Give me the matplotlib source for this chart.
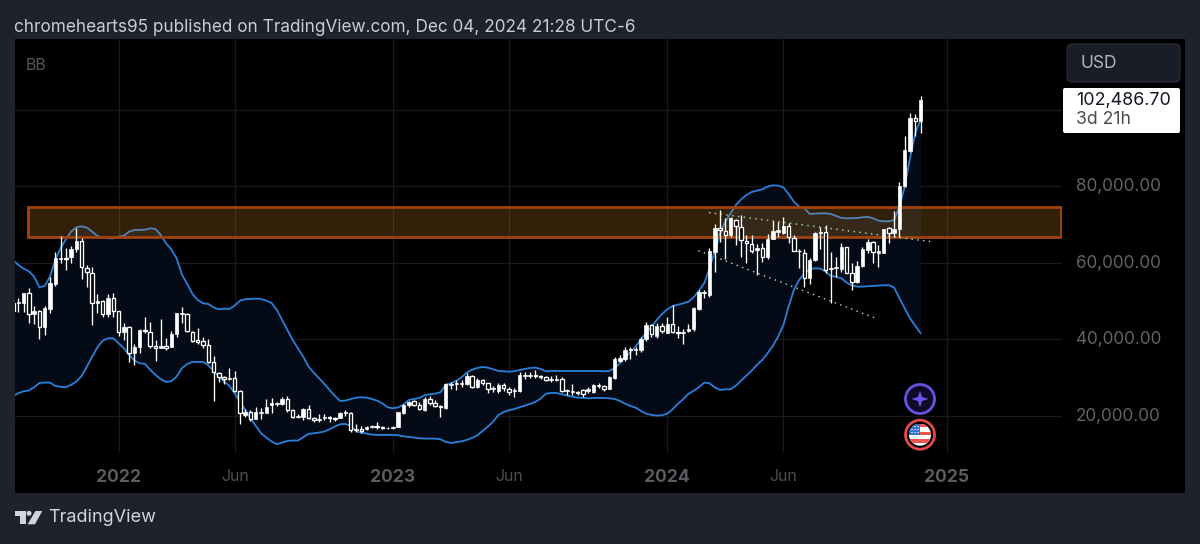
import numpy as np
import pandas as pd
import matplotlib
matplotlib.use("Agg")
import matplotlib.pyplot as plt
from matplotlib.patches import Rectangle, Circle, FancyBboxPatch, Polygon
from matplotlib.transforms import ScaledTranslation

opens = [49430,49430,49430,52040,46560,47430,43340,48040,54480,60910,61350,61440,63520,65790,58560,57430,49600,50130,46650,50730,
         47430,42030,43170,36550,37950,42470,42030,38380,37860,38380,37950,41340,46650,46650,42030,39860,39510,38470,34120,31330,
         30290,29590,29940,26640,20280,21150,19330,20890,20890,22810,23160,23160,24370,21590,19680,19850,21760,19500,18980,19410,
         19680,19590,19590,20810,20880,16270,16530,16530,17140,17400,17050,16790,16790,17230,20880,22800,23840,22970,21580,24360,
         23490,22620,22010,28100,28280,28280,28360,30450,27490,29410,28540,26970,26620,28190,27150,26540,26540,30450,30450,30710,
         30360,30100,29490,29490,29670,26450,26280,26280,26710,26620,26280,27840,27840,27150,29930,34450,34800,37150,37240,37240,
         40020,43850,40890,43500,41780,43960,41960,41610,42300,42650,47960,52050,51610,62920,69010,68320,67190,71190,69450,65790,
         64920,63360,63880,61440,66140,68140,67710,69620,66490,63180,62660,55960,60750,67710,68140,58310,58750,58310,64050,57270,
         54920,59180,63360,65530,62660,62660,69010,67880,68750,80060,89280,97810,96940]
highs = [49860,50730,52210,53340,48730,47690,48730,56390,62910,67090,63780,64390,69000,66390,59430,59000,51870,50300,51870,52040,
         47520,44380,43510,38820,42640,45780,44640,39860,45430,40290,42300,46990,48390,46990,42300,42990,40730,40030,35770,31590,
         30460,32460,31860,26810,21760,21590,22460,22020,24370,24630,23760,25070,25240,21760,20550,22020,22890,19680,20550,20550,
         20020,19850,21150,21590,21140,17920,17400,17400,17660,18450,17400,17230,17400,21140,23140,24010,24190,23670,24880,25230,
         24190,22800,28540,28970,29410,29410,31320,30630,29840,29760,28710,27840,28540,28540,27490,27230,31500,31580,31580,32020,
         30630,30450,30450,30800,30100,26970,28360,26620,27150,27490,28360,28710,28100,30450,35320,35930,37930,37930,38110,40540,
         44630,44020,44370,44200,45960,49000,43520,42830,44040,48570,52920,52920,63790,70060,73800,71620,72060,71360,72490,67270,
         67270,64920,65270,67530,71010,70750,71880,70320,67270,63530,63530,61180,68060,69270,69800,62840,61620,65100,64230,59880,
         60570,64230,66320,65790,64660,68930,69270,73620,81190,93110,99200,98850,103550]
lows = [47250,47250,47250,44210,44040,40030,41160,46990,53950,59870,58130,59870,62910,55780,53600,43770,46990,45780,45780,45780,
        40900,39860,34200,33330,36380,41600,37680,34470,37680,37250,37950,40730,44380,42030,39420,38820,37680,33940,24030,28810,
        28380,29420,26370,17850,19850,18810,19150,19240,20720,20890,22630,22810,20980,19590,19590,18980,19330,18460,18540,18980,
        18460,18720,19410,20020,15840,15840,15490,16360,16880,16710,16530,16530,16530,17050,20530,22450,22620,21580,21230,22800,
        22270,19840,21750,26970,26800,27490,28190,27320,27320,28020,26100,26280,26100,26620,25580,24880,26360,29580,29930,30020,
        29760,29060,28890,29060,26280,25580,25580,25580,25060,26100,26100,27320,26620,26970,29760,34110,34450,34980,35850,36800,
        39670,40540,40280,41610,41610,41610,40300,38820,41960,42300,47700,50740,51000,57700,65530,60920,66660,64660,61620,59880,
        62490,56750,60310,60920,66140,66840,67530,65270,63010,58570,53610,54480,60570,63530,57440,49610,56400,57700,57270,52920,
        54830,59010,62660,60050,59010,62490,65270,66840,66840,79890,89020,93110,93810]
closes = [47520,49690,52040,46560,47430,43340,48120,54650,61350,61350,60910,63520,65790,58830,57520,49600,50130,46650,50730,47520,
          42030,43170,36550,37950,42470,42120,38380,37860,38380,37860,41340,46820,46990,42300,39690,39420,38550,34200,31420,30290,
          29590,29850,26640,20720,21150,19330,20980,21150,22460,23330,23500,24370,21590,19680,20020,21760,19500,18980,19240,19680,
          19410,19330,20720,21150,16360,16530,16180,17230,17400,17140,16790,16970,17230,21060,22880,23750,22800,21930,24360,23320,
          22620,22270,28360,28360,28540,28540,30450,27670,29410,28540,26970,27230,28190,27320,26280,26800,30710,30710,30800,30450,
          30100,29410,29760,29760,26450,26710,26540,26010,25840,26970,28100,28190,26970,30100,34800,35060,37240,37500,37590,40200,
          43850,41410,43500,42280,44040,41870,41610,41960,42830,48310,52310,52480,63100,69010,68580,67190,71620,69620,65970,65270,
          63010,63790,61440,66140,68400,68580,69620,66840,63180,63010,55960,60750,67710,68140,58140,58750,59010,64230,57440,54920,
          59270,63530,65530,62920,63100,68750,67880,68750,80060,89460,97900,97110,102490]
bb_upper = [60739,59434,58477,57781,56389,53605,53953,56389,60739,63784,66133,68134,69265,69526,69178,68134,66997,66568,66394,66394,
            66829,67090,68134,68569,68569,68656,69004,68830,67264,65089,63523,61174,56998,54475,51865,50299,49429,49255,48385,47863,
            48037,47950,48820,50125,50473,50560,50647,50560,50125,49516,47689,45079,42469,39859,37684,35509,32899,31333,29854,28375,
            26809,25243,23938,24025,24400,24796,24883,24796,24448,24013,23317,22273,22012,22273,22969,24187,24448,24709,25405,25666,
            25840,26188,28102,28537,29146,30103,31321,32104,32539,32800,32626,32191,31756,31669,31582,31669,32017,32278,32539,32626,
            32278,31669,31756,31756,31756,31756,31756,31756,31756,31756,31756,31756,31669,31756,32452,33757,35323,36628,38107,40021,
            41761,43327,45067,46633,47851,48721,49069,49417,49852,50983,52743,54657,58572,62922,67707,70752,72927,75102,76581,77712,
            78495,78843,79191,79887,80235,80148,79713,77973,75972,74667,74232,72753,72840,72927,72927,72753,72231,71709,71622,71622,
            71709,71883,71970,71622,71013,70839,70839,71187,74667,79887,87282,93807,97287]
bb_lower = [25243,25939,26461,26635,27505,28636,28723,28723,27853,27592,27505,28114,28984,30463,32899,35509,37945,39685,40294,40294,
            38989,37684,35944,34465,33769,33595,32029,30724,29593,28897,29071,30289,32464,33595,34117,34117,34117,33247,31768,30289,
            28984,27853,25939,23764,21589,19414,17413,15499,14368,13324,12628,13063,13498,13585,13585,14455,15325,15499,15673,15934,
            16543,17239,17848,17935,17413,16009,15661,15400,15139,15052,15052,15052,15052,14965,14704,14530,14356,14182,14095,14095,
            14095,13921,13225,12964,13138,13399,13747,14269,14965,16096,17227,18532,20272,21055,21490,21838,22273,22708,23143,23665,
            24535,25840,26014,26014,25666,25318,25057,24796,24709,24622,24709,24709,24709,24622,24448,23926,23230,22621,22186,21316,
            20620,20272,20098,20185,20620,21751,23143,24361,25753,26600,27500,28709,28535,27491,26795,26969,26969,27926,29231,30536,
            31841,33320,34625,36365,38279,40715,43700,48567,52917,55527,57267,58311,58572,58485,57702,56571,56310,55962,54831,54048,
            53787,53787,53874,53961,54048,54135,54135,53526,50742,48132,45522,43521,41607]

first_week = "2021-08-09"
tick_dates = ["2021-12-27", "2022-05-30", "2022-12-26", "2023-05-29", "2023-12-25", "2024-05-27", "2024-12-30"]
tick_labels = ["2022", "Jun", "2023", "Jun", "2024", "Jun", "2025"]
price_ticks = [20000, 40000, 60000, 80000, 100000]
price_labels = ["20,000.00", "40,000.00", "60,000.00", "80,000.00", ""]
zone_top, zone_bottom = 74570, 66820
zone_weeks = [2.83, 198.6]
trend_upper = ([131.9, 174.4], [73100, 65450])
trend_lower = ([129.9, 164.0], [63180, 45260])
last_price, countdown = "102,486.70", "3d 21h"
header = "chromehearts95 published on TradingView.com, Dec 04, 2024 21:28 UTC-6"

BG = "#1e222d"
plt.rcParams["font.family"] = ["Inter", "DejaVu Sans"]
W, H = 1200, 544
fig = plt.figure(figsize=(W / 100, H / 100), dpi=100, facecolor=BG)

def box(l, t, r, b):
    return [l / W, 1 - b / H, (r - l) / W, (b - t) / H]

panel = fig.add_axes(box(15, 39, 1185, 493), facecolor="black")
panel.set_xticks([]); panel.set_yticks([])
for s in panel.spines.values():
    s.set_visible(False)

ax = fig.add_axes(box(15, 39, 1062, 453), facecolor="none")
px_per_week = 5.276
x0_px = 13.06
ax.set_xlim((15 - x0_px) / px_per_week, (1062 - x0_px) / px_per_week)
def y_val(y):
    return 20000 + (416 - y) / 3.83 * 1000
ax.set_ylim(y_val(453), y_val(39))
for s in ax.spines.values():
    s.set_visible(False)

x = np.arange(len(closes))
o, h_, l_, c = map(np.array, (opens, highs, lows, closes))
start = pd.Timestamp(first_week)
tick_pos = [(pd.Timestamp(d) - start).days / 7 for d in tick_dates]

ax.set_xticks(tick_pos)
ax.set_xticklabels(tick_labels)
for lab, txt in zip(ax.get_xticklabels(), tick_labels):
    if txt == "Jun":
        lab.set(color="#4d4f55", fontsize=11.4, fontweight="normal")
    else:
        lab.set(color="#5a5c62", fontsize=12.6, fontweight="bold")
ax.yaxis.tick_right()
ax.set_yticks(price_ticks)
ax.set_yticklabels(price_labels, color="#626367", fontsize=12.3)
ax.tick_params(axis="both", length=0)
ax.tick_params(axis="x", pad=11.5)
ax.tick_params(axis="y", pad=9.8)
shift = ScaledTranslation(0, 1.5 / 100, fig.dpi_scale_trans)
for lab in ax.get_yticklabels():
    lab.set_transform(lab.get_transform() + shift)
ax.grid(True, color="#191a1c", lw=0.9, zorder=0)
ax.set_axisbelow(True)

ax.fill_between(x, bb_lower, bb_upper, color="#040b16", lw=0, zorder=1)
ax.plot(x, bb_upper, color="#2a7fd9", lw=1.3, zorder=2)
ax.plot(x, bb_lower, color="#2a7fd9", lw=1.3, zorder=2)

ax.add_patch(Rectangle((zone_weeks[0], zone_bottom), zone_weeks[1] - zone_weeks[0], zone_top - zone_bottom,
                       facecolor=(0.95, 0.6, 0.15, 0.21), edgecolor="#a3420f", lw=2.0, zorder=3))
for tx, ty in (trend_upper, trend_lower):
    ax.plot(tx, ty, color="#a0d8aa", lw=1.05, ls=(0, (1, 3)), zorder=4)

ax.vlines(x, l_, h_, color="white", lw=0.95, zorder=5)
up = c >= o
ax.bar(x[up], (c - o)[up], bottom=o[up], width=0.66, facecolor="white", edgecolor="white", lw=0.5, zorder=6)
ax.bar(x[~up], (c - o)[~up], bottom=o[~up], width=0.66, facecolor="black", edgecolor="white", lw=0.95, zorder=6)

ov = fig.add_axes([0, 0, 1, 1], facecolor="none")
ov.set_xlim(0, W); ov.set_ylim(H, 0); ov.axis("off")

ov.text(14.5, 27, header, color="#c9ccd4", fontsize=12.36, va="center", ha="left")
ov.text(26, 65, "BB", color="#55565a", fontsize=11.5, va="center", ha="left")

ov.add_patch(FancyBboxPatch((1071, 48), 105, 30, boxstyle="round,pad=4,rounding_size=5", fc="#191d28", ec="#2a2e39", lw=0.8))
ov.text(1081, 63, "USD", color="#b2b5be", fontsize=12.5, va="center", ha="left")

ov.add_patch(FancyBboxPatch((1065, 90), 113, 41, boxstyle="round,pad=2,rounding_size=2", fc="white", ec="none"))
ov.text(1076, 100, last_price, color="#131722", fontsize=12.9, va="center", ha="left")
ov.text(1076, 120, countdown, color="#4a4a4a", fontsize=12.7, va="center", ha="left")

# purple star marker
ov.add_patch(Circle((920, 399), 14.5, fc="#0d0b26", ec="#6b4fe0", lw=2))
s = 8.5; t = 2
ov.add_patch(Polygon([(920, 399 - s), (920 + t, 399 - t), (920 + s, 399), (920 + t, 399 + t),
                      (920, 399 + s), (920 - t, 399 + t), (920 - s, 399), (920 - t, 399 - t)], fc="#7052f2", ec="none"))

# flag marker
ov.add_patch(Circle((920, 434.7), 14.5, fc="black", ec="#e5484d", lw=2))
clip = Circle((920, 434.7), 11, transform=ov.transData)
ov.add_patch(Rectangle((909, 423.7), 22, 22, fc="white", ec="none", clip_path=clip))
for yy in (423.7, 431.5, 439.3):
    ov.add_patch(Rectangle((909, yy), 22, 3.3, fc="#ef5350", ec="none", clip_path=clip))
ov.add_patch(Rectangle((909, 423.7), 11, 11.5, fc="#2f6fd8", ec="none", clip_path=clip))
for dx in (912, 915, 918):
    for dy in (426.5, 429.5, 432.5):
        ov.add_patch(Circle((dx, dy), 0.7, fc="white", ec="none", clip_path=clip))

# TradingView logo
logo = "#d1d4dc"
ov.add_patch(Polygon([(14.7, 511), (25.5, 511), (25.5, 524), (19.5, 524), (19.5, 516), (14.7, 516)], fc=logo, ec="none"))
ov.add_patch(Circle((29, 513.3), 2.5, fc=logo, ec="none"))
ov.add_patch(Polygon([(35.5, 511), (42.3, 511), (35, 524.3), (27.5, 524.3)], fc=logo, ec="none"))
ov.text(48.5, 518, "TradingView", color="#d1d4dc", fontsize=13.0, va="center", ha="left")

fig.savefig("out.png", dpi=100, facecolor=BG)
